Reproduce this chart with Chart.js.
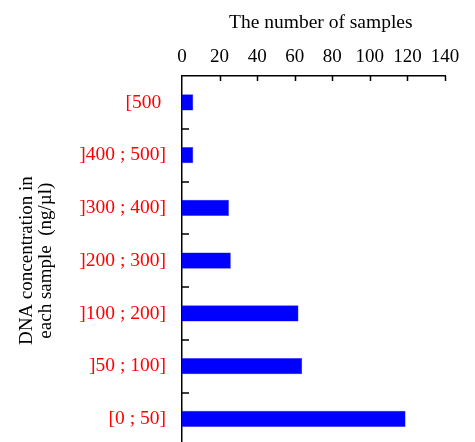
<!DOCTYPE html>
<html>
<head>
<meta charset="utf-8">
<script src="https://cdn.jsdelivr.net/npm/chart.js@4/dist/chart.umd.min.js"></script>
<style>
  html, body { margin: 0; padding: 0; background: #fff; overflow: hidden; }
  #wrap { width: 475px; height: 473px; }
</style>
</head>
<body>
<div id="wrap"><canvas id="samplesChart" width="475" height="473"></canvas></div>
<script>
const categories = ['[500 ', ']400 ; 500]', ']300 ; 400]', ']200 ; 300]', ']100 ; 200]', ']50 ; 100]', '[0 ; 50]'];
const sampleCounts = [6, 6, 25, 26, 62, 64, 119];
const xTicks = [0, 20, 40, 60, 80, 100, 120, 140];

// short tick marks drawn inside the plot, like the original figure
const innerTicks = {
    id: 'innerTicks',
    afterDraw(chart) {
        const ctx = chart.ctx;
        const x = chart.scales.x;
        const y = chart.scales.y;
        ctx.save();
        ctx.strokeStyle = '#000';
        ctx.lineWidth = 1.5;
        ctx.beginPath();
        xTicks.forEach(function (v) {
            if (v === 0) return;
            const px = Math.round(x.getPixelForValue(v)) + 0.5;
            ctx.moveTo(px, y.top);
            ctx.lineTo(px, y.top + 5);
        });
        for (let i = 0; i < categories.length - 1; i++) {
            const py = Math.round((y.getPixelForValue(i) + y.getPixelForValue(i + 1)) / 2);
            ctx.moveTo(x.left, py);
            ctx.lineTo(x.left + 7, py);
        }
        ctx.stroke();
        ctx.restore();
    }
};

const ctxSamples = document.getElementById('samplesChart').getContext('2d');
const samplesChart = new Chart(ctxSamples, {
    type: 'bar',
    data: {
        labels: categories,
        datasets: [{
            data: sampleCounts,
            backgroundColor: '#0000ff',
            borderColor: '#3a3aff',
            borderWidth: 0.5,
            categoryPercentage: 1,
            barPercentage: 0.31
        }]
    },
    options: {
        indexAxis: 'y',
        responsive: false,
        animation: false,
        layout: { padding: { left: 0, top: 0, right: 30, bottom: 5 } },
        scales: {
            x: {
                position: 'top',
                min: 0,
                max: 140,
                afterBuildTicks: function (scale) {
                    scale.ticks = xTicks.map(v => ({ value: v }));
                },
                afterFit: function (scale) { scale.height = 76; },
                grid: { display: false, drawTicks: false },
                border: { display: true, color: '#000', width: 1.5 },
                ticks: {
                    color: '#000',
                    padding: 8,
                    maxRotation: 0,
                    autoSkip: false,
                    font: { family: 'Liberation Serif', size: 19 }
                },
                title: {
                    display: true,
                    text: '   The number of samples',
                    color: '#000',
                    padding: { top: 11, bottom: 0 },
                    font: { family: 'Liberation Serif', size: 19.5 }
                }
            },
            y: {
                afterFit: function (scale) { scale.width = 182; },
                grid: { display: false, drawTicks: false },
                border: { display: true, color: '#000', width: 1.5 },
                ticks: {
                    color: '#ff0000',
                    padding: 16,
                    font: { family: 'Liberation Serif', size: 19.5 }
                },
                title: {
                    display: true,
                    text: ['DNA concentration in', 'each sample  (ng/\u00b5l)'],
                    color: '#000',
                    padding: { top: 17, bottom: 0 },
                    font: { family: 'Liberation Serif', size: 19, lineHeight: 1.02 }
                }
            }
        },
        plugins: {
            legend: { display: false },
            tooltip: { enabled: false }
        }
    },
    plugins: [innerTicks]
});
</script>
</body>
</html>
